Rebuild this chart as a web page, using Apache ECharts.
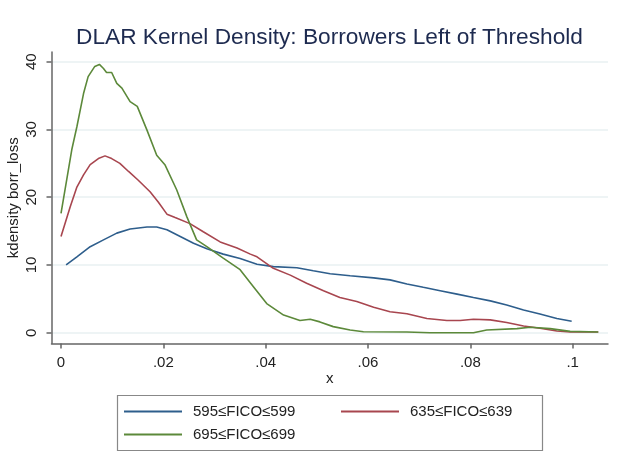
<!DOCTYPE html>
<html>
<head>
<meta charset="utf-8">
<script src="https://cdn.jsdelivr.net/npm/echarts@6/dist/echarts.min.js"></script>
<style>
html,body{margin:0;padding:0;background:#fff;}
#chart{width:621px;height:466px;}
</style>
</head>
<body>
<div id="chart"></div>
<script>
const titleText = 'DLAR Kernel Density: Borrowers Left of Threshold';
const seriesNames = ['595\u2264FICO\u2264599', '635\u2264FICO\u2264639', '695\u2264FICO\u2264699'];
const xTicks = [0, 0.02, 0.04, 0.06, 0.08, 0.1];
const yTicks = [0, 10, 20, 30, 40];

const fico595 = [
  [0.0010,10.0],[0.0031,11.2],[0.0057,12.7],[0.0083,13.7],[0.0109,14.7],[0.0135,15.3],
  [0.0168,15.6],[0.0187,15.6],[0.0207,15.2],[0.0233,14.2],[0.0259,13.2],[0.0285,12.4],
  [0.0317,11.6],[0.0350,10.95],[0.0383,10.1],[0.0415,9.75],[0.0461,9.6],[0.0493,9.15],
  [0.0526,8.7],[0.0565,8.4],[0.0611,8.1],[0.0643,7.8],[0.0676,7.2],[0.0708,6.7],
  [0.0741,6.2],[0.0774,5.7],[0.0806,5.2],[0.0839,4.7],[0.0871,4.1],[0.0904,3.35],
  [0.0936,2.75],[0.0969,2.1],[0.0998,1.7]
];
const fico635 = [
  [0.0000,14.2],[0.0018,18.6],[0.0031,21.5],[0.0044,23.3],[0.0057,24.8],[0.0073,25.7],
  [0.0086,26.1],[0.0099,25.7],[0.0115,25.0],[0.0132,23.8],[0.0151,22.5],[0.0174,20.8],
  [0.0190,19.3],[0.0207,17.5],[0.0223,17.0],[0.0252,16.1],[0.0278,14.9],[0.0311,13.4],
  [0.0344,12.5],[0.0370,11.6],[0.0383,11.2],[0.0415,9.5],[0.0448,8.5],[0.0480,7.3],
  [0.0513,6.2],[0.0545,5.2],[0.0578,4.6],[0.0611,3.75],[0.0643,3.1],[0.0676,2.8],
  [0.0715,2.1],[0.0754,1.8],[0.0780,1.8],[0.0806,2.0],[0.0839,1.9],[0.0871,1.5],
  [0.0904,1.0],[0.0936,0.65],[0.0969,0.25],[0.0995,0.1],[0.1050,0.1]
];
const fico695 = [
  [0.0000,17.6],[0.0021,27.0],[0.0031,30.4],[0.0044,35.3],[0.0053,37.8],[0.0066,39.3],
  [0.0075,39.6],[0.0083,39.0],[0.0089,38.4],[0.0099,38.4],[0.0109,36.8],[0.0119,36.1],
  [0.0135,34.1],[0.0149,33.4],[0.0168,29.9],[0.0187,26.2],[0.0203,24.8],[0.0226,21.1],
  [0.0246,17.1],[0.0265,13.7],[0.0285,12.7],[0.0317,11.0],[0.0350,9.3],[0.0376,6.8],
  [0.0402,4.3],[0.0435,2.6],[0.0467,1.8],[0.0487,2.0],[0.0506,1.6],[0.0532,0.9],
  [0.0565,0.4],[0.0591,0.15],[0.0676,0.1],[0.0721,0.0],[0.0806,0.0],[0.0832,0.4],
  [0.0891,0.6],[0.0917,0.8],[0.0956,0.6],[0.0995,0.2],[0.1050,0.1]
];

const colors = ['#2e5e8c', '#a8464f', '#5c893a'];
const font = 'Liberation Sans, Arial, sans-serif';

function fmtX(v) {
  if (v === 0) return '0';
  return String(v).replace(/^0/, '');
}

const chart = echarts.init(document.getElementById('chart'), null, {renderer: 'canvas'});
chart.setOption({
  animation: false,
  backgroundColor: '#fff',
  title: {
    text: titleText,
    left: 76, top: 26, padding: 0,
    textStyle: {fontFamily: font, fontSize: 22.7, fontWeight: 'normal', color: '#1e2b50'}
  },
  grid: {left: 51.5, top: 52, right: 13, bottom: 122.5, containLabel: false, outerBoundsMode: 'none'},
  xAxis: {
    type: 'value', min: -0.00186, max: 0.1069,
    name: 'x', nameLocation: 'middle', nameGap: 28, nameMoveOverlap: false,
    nameTextStyle: {fontFamily: font, fontSize: 15, color: '#222'},
    axisLine: {show: true, onZero: false, lineStyle: {color: '#666', width: 1.5}},
    axisTick: {show: true, length: 5, customValues: xTicks, lineStyle: {color: '#666', width: 1.5}},
    axisLabel: {customValues: xTicks, formatter: fmtX, margin: 12,
      fontFamily: font, fontSize: 15, color: '#222'},
    splitLine: {show: false}
  },
  yAxis: {
    type: 'value', min: -1.59, max: 41.43,
    name: 'kdensity borr_loss', nameLocation: 'middle', nameGap: 30, nameMoveOverlap: false,
    nameTextStyle: {fontFamily: font, fontSize: 15, color: '#222'},
    axisLine: {show: true, onZero: false, lineStyle: {color: '#666', width: 1.5}},
    axisTick: {show: true, length: 5, customValues: yTicks, lineStyle: {color: '#666', width: 1.5}},
    axisLabel: {customValues: yTicks, rotate: 90, margin: 12,
      fontFamily: font, fontSize: 15, color: '#222'},
    splitLine: {show: true, lineStyle: {color: '#e8f0f2', width: 1.5}}
  },
  legend: {
    left: 124, top: 404, padding: 0,
    itemWidth: 58, itemHeight: 14, itemGap: 8, width: 440,
    icon: 'path://M0,6L58,6L58,8L0,8Z',
    data: seriesNames,
    textStyle: {fontFamily: font, fontSize: 15, color: '#222', width: 140,
      lineHeight: 14, padding: [0, 0, 0, 6]}
  },
  graphic: [{
    type: 'rect', shape: {x: 117.5, y: 395.5, width: 425, height: 55},
    style: {fill: 'none', stroke: '#888', lineWidth: 1.2}, silent: true
  }],
  series: [
    {name: seriesNames[0], type: 'line', data: fico595, symbol: 'none', color: colors[0],
      lineStyle: {width: 1.6, color: colors[0]}},
    {name: seriesNames[1], type: 'line', data: fico635, symbol: 'none', color: colors[1],
      lineStyle: {width: 1.6, color: colors[1]}},
    {name: seriesNames[2], type: 'line', data: fico695, symbol: 'none', color: colors[2],
      lineStyle: {width: 1.6, color: colors[2]}}
  ]
});
</script>
</body>
</html>
